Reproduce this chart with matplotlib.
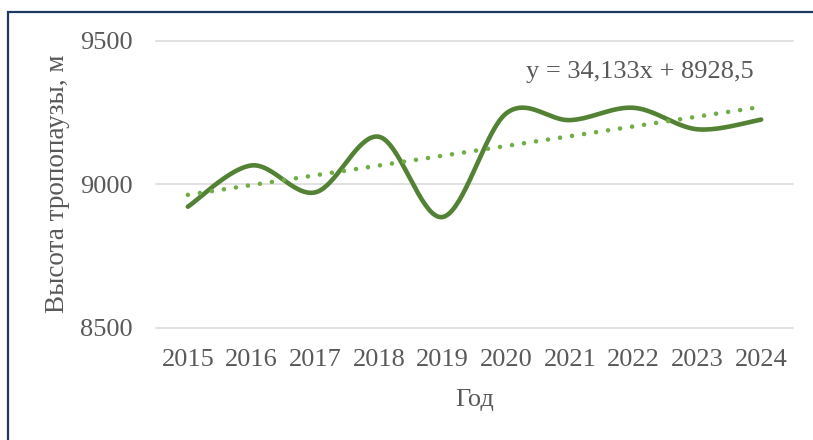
import numpy as np
import matplotlib.pyplot as plt
from matplotlib.patches import Rectangle

# tropopause height by year
years = ["2015", "2016", "2017", "2018", "2019", "2020", "2021", "2022", "2023", "2024"]
heights = [8922, 9066, 8972, 9166, 8886, 9248, 9224, 9267, 9192, 9226]
trend_label = "y = 34,133x + 8928,5"

plt.rcParams['font.family'] = ['Liberation Serif', 'DejaVu Serif']
grey = "#595959"


def excel_smooth(x, y, steps=40):
    # bezier smoothing like Excel's "smoothed line"
    px = np.concatenate([[x[0]], x, [x[-1]]])
    py = np.concatenate([[y[0]], y, [y[-1]]])
    t = np.linspace(0, 1, steps)[:, None]
    xs, ys = [], []
    for i in range(1, len(px) - 2):
        p0 = np.array([px[i], py[i]])
        p3 = np.array([px[i + 1], py[i + 1]])
        c1 = p0 + (p3 - np.array([px[i - 1], py[i - 1]])) / 6
        c2 = p3 - (np.array([px[i + 2], py[i + 2]]) - p0) / 6
        pts = (1 - t) ** 3 * p0 + 3 * (1 - t) ** 2 * t * c1 + 3 * (1 - t) * t ** 2 * c2 + t ** 3 * p3
        xs.extend(pts[:, 0])
        ys.extend(pts[:, 1])
    return np.array(xs), np.array(ys)


x = np.arange(1, len(years) + 1)
y = np.array(heights, dtype=float)

fig = plt.figure(figsize=(8.13, 4.40), dpi=100)
ax = fig.add_axes([156 / 813, 1 - 327.7 / 440, (793 - 156) / 813, (327.7 - 41) / 440])

ax.set_ylim(8500, 9500)
ax.set_xlim(0.5, len(years) + 0.5)
ax.set_yticks([8500, 9000, 9500])
ax.set_xticks(x)
ax.set_xticklabels(years)
ax.yaxis.grid(True, color="#D9D9D9", linewidth=1.1)
for gl in ax.get_ygridlines():
    gl.set_clip_on(False)
ax.set_axisbelow(True)
for s in ax.spines.values():
    s.set_visible(False)
ax.tick_params(length=0, labelsize=19, labelcolor=grey)
ax.tick_params(axis='y', pad=17)
ax.tick_params(axis='x', pad=15)

sx, sy = excel_smooth(x, y)
ax.plot(sx, sy, color="#548235", linewidth=3.3, solid_capstyle='round', zorder=3)

k, b = np.polyfit(x, y, 1)
ax.plot(x, k * x + b, color="#70AD47", linewidth=3.3, linestyle=(0, (0.01, 2.64)),
        dash_capstyle='round', zorder=4)

fig.text(58 / 813, 1 - 184 / 440, "Высота тропопаузы, м", rotation=90,
         fontsize=19.5, color=grey, ha='center', va='center')
ax.set_xlabel("Год", fontsize=19, color=grey, labelpad=13)

fig.text(526 / 813, 1 - 72 / 440, trend_label, fontsize=19, color=grey, va='center', ha='left')

fig.patches.append(Rectangle((8 / 813, -0.1), 1.2, 1.1 - 12 / 440, transform=fig.transFigure,
                             fill=False, edgecolor="#1F3864", linewidth=1.6))

fig.savefig("out.png", dpi=100)
